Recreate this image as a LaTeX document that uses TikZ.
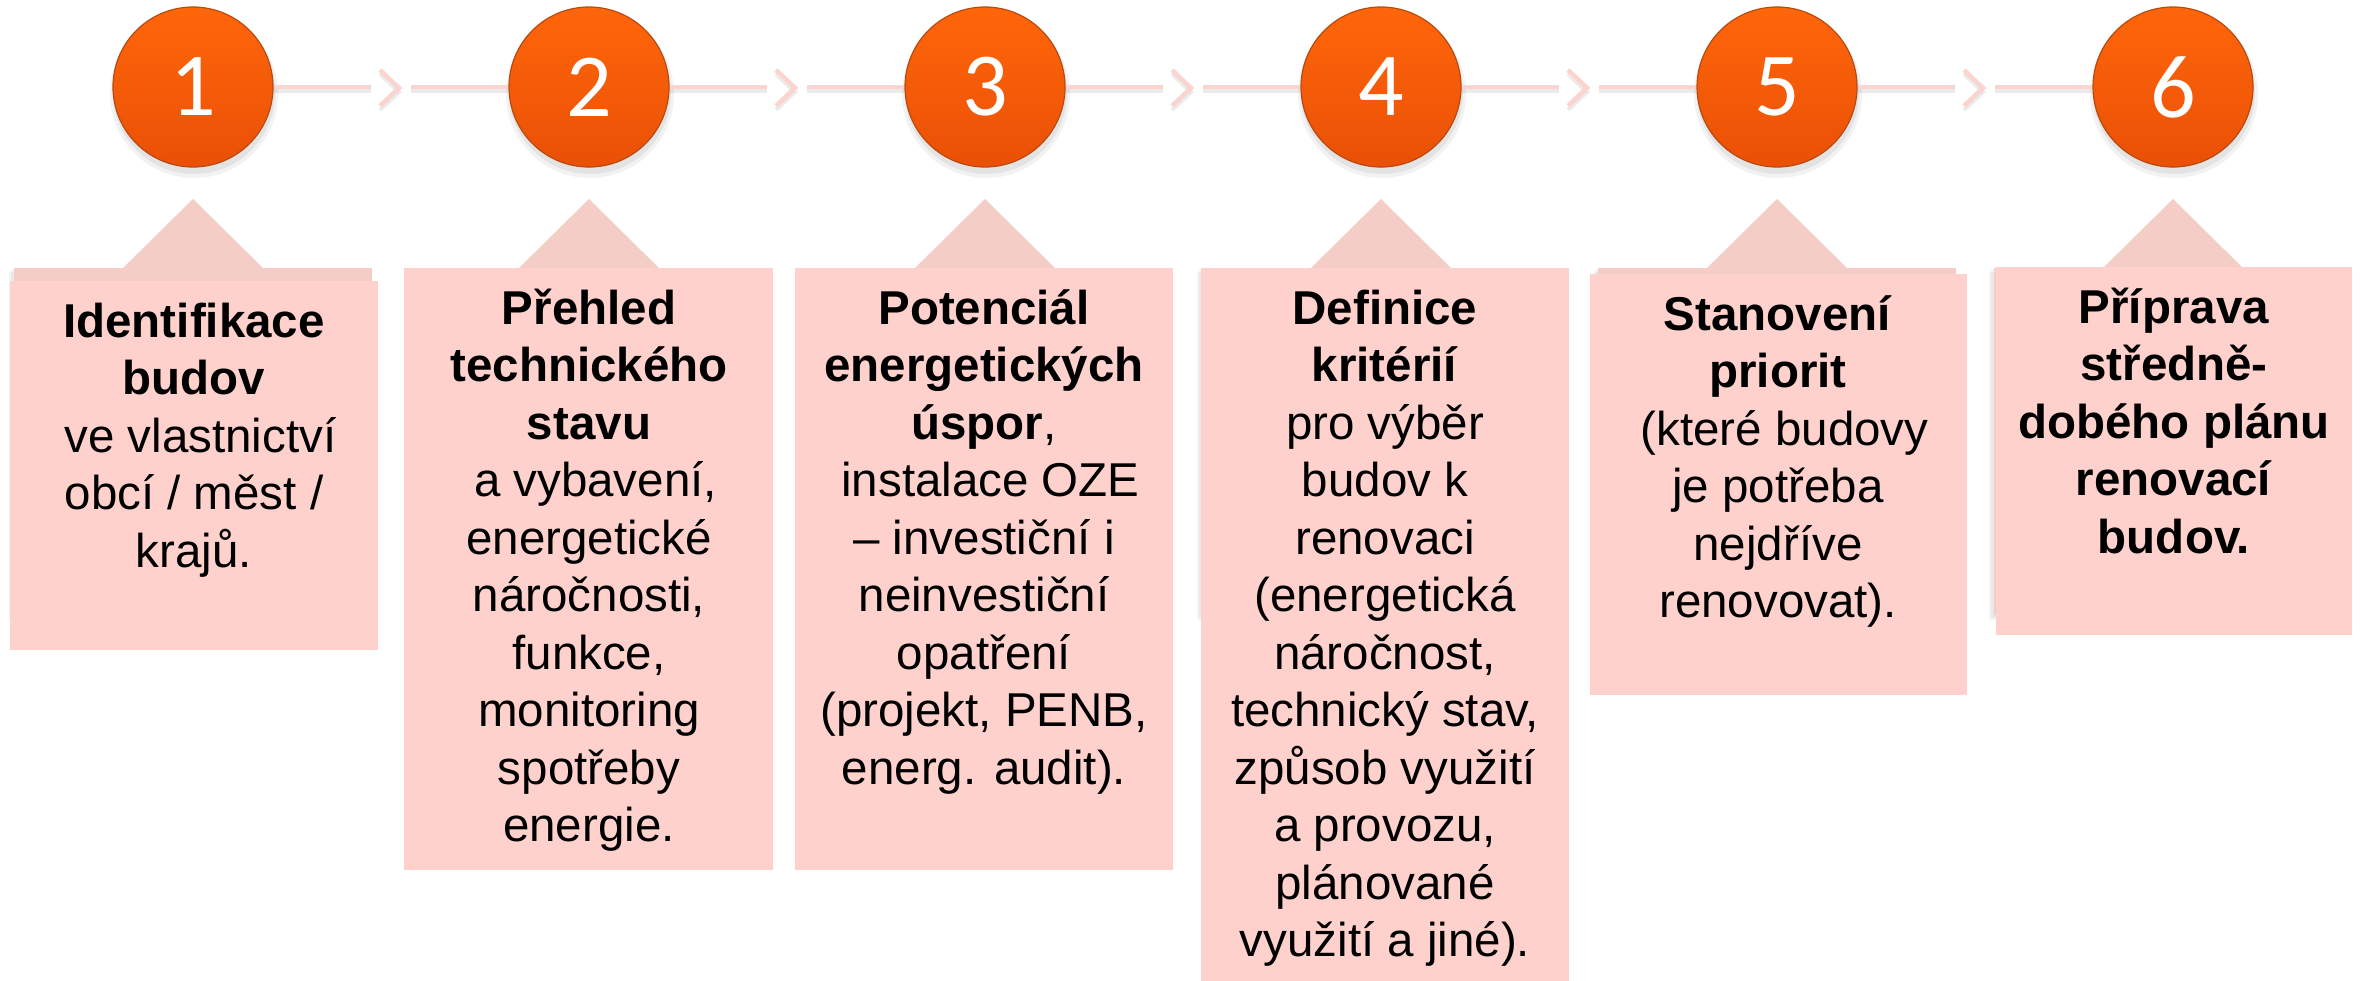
\documentclass[tikz,border=0pt]{standalone}
\usepackage{fontspec}
\setmainfont{Liberation Sans}
\newfontfamily\numfont{Carlito}
\definecolor{orTop}{HTML}{FF660A}
\definecolor{orBot}{HTML}{EA5006}
\definecolor{orRim}{HTML}{B84A10}
\definecolor{backPink}{HTML}{F4CDC7}
\definecolor{frontPink}{HTML}{FED1CC}
\definecolor{linePink}{HTML}{FBD3CF}
\begin{document}
\begin{tikzpicture}[x=1pt,y=-1pt,
  numcirc/.style={circle, minimum size=160pt, inner sep=0pt, top color=orTop, bottom color=orBot,
    draw=orRim, line width=1.2pt, text=white, font=\numfont\fontsize{90}{90}\selectfont},
  conn/.style={draw=linePink, line width=3.5pt},
  connshadow/.style={draw=black, opacity=0.08, line width=4pt},
  chev/.style={draw=linePink, line width=4.5pt, line join=miter},
  txt/.style={anchor=north, inner sep=0pt, align=center, text=black,
    font=\fontsize{47.5}{57.5}\selectfont}]
\useasboundingbox (0,0) rectangle (2361,980);
\fill[white] (0,0) rectangle (2361,980);

% ---- back callouts (triangle + rectangle) with soft shadow
\foreach \cx in {193,589,985,1381,1777,2173}{
  \fill[black,opacity=0.04] (\cx-184,272) rectangle (\cx+177,620);
  \fill[black,opacity=0.05] (\cx-182,270) rectangle (\cx+178,618);
  \fill[black,opacity=0.04] (\cx-71,272) -- (\cx,201) -- (\cx+71,272) -- cycle;
  \fill[backPink] (\cx-179,268) rectangle (\cx+179,615);
  \fill[backPink] (\cx-71,269) -- (\cx,199) -- (\cx+71,269) -- cycle;
}

% ---- front text rectangles
\fill[frontPink] (10,281) rectangle (378,650);
\fill[frontPink] (404,268) rectangle (773,870);
\fill[frontPink] (795,268) rectangle (1173,870);
\fill[frontPink] (1201,268) rectangle (1569,985);
\fill[frontPink] (1590,274) rectangle (1967,695);
\fill[frontPink] (1996,267) rectangle (2352,635);

% ---- circle shadows
\foreach \cx in {193,589,985,1381,1777,2173}{
  \fill[black,opacity=0.05] (\cx+1,94) circle (84pt);
  \fill[black,opacity=0.06] (\cx+1,93) circle (81pt);
}

% ---- numbered circles
\node[numcirc] (c1) at (193,87) {1};
\node[numcirc] (c2) at (589,87) {2};
\node[numcirc] (c3) at (985,87) {3};
\node[numcirc] (c4) at (1381,87) {4};
\node[numcirc] (c5) at (1777,87) {5};
\node[numcirc] (c6) at (2173,87) {6};

% ---- connectors with chevrons
\foreach \i/\j/\m in {1/2/391,2/3/787,3/4/1183,4/5/1579,5/6/1975}{
  \coordinate (a\i) at (\m-20,87);
  \coordinate (b\i) at (\m+20,87);
  \coordinate (u\i) at (\m-11,70);
  \coordinate (p\i) at (\m+8,88);
  \coordinate (d\i) at (\m-11,106);
  \draw[connshadow] ([yshift=-4pt]c\i.east) -- ([yshift=-4pt]a\i);
  \draw[connshadow] ([yshift=-4pt]b\i) -- ([yshift=-4pt]c\j.west);
  \draw[connshadow] ([yshift=-4pt]u\i) -- ([yshift=-4pt]p\i) -- ([yshift=-4pt]d\i);
  \draw[conn] (c\i.east) -- (a\i);
  \draw[conn] (b\i) -- (c\j.west);
  \draw[chev] (u\i) -- (p\i) -- (d\i);
}

% ---- texts
\node[txt] (t1) at (194,297) {\rule{0pt}{40pt}\textbf{Identifikace}\\ \textbf{budov}\\ \hspace*{13pt}ve vlastnictví\\ obcí / měst /\\ krajů.};
\node[txt] (t2) at (589,284) {\rule{0pt}{40pt}\textbf{Přehled}\\ \textbf{technického}\\ \textbf{stavu}\\ \hspace*{13pt}a vybavení,\\ energetické\\ náročnosti,\\ funkce,\\ monitoring\\ spotřeby\\ energie.};
\node[txt] (t3) at (984,284) {\rule{0pt}{40pt}\textbf{Potenciál}\\ \textbf{energetických}\\ \textbf{úspor},\\ \hspace*{13pt}instalace OZE\\ – investiční i\\ neinvestiční\\ opatření\\ (projekt, PENB,\\ energ. audit).};
\node[txt] (t4) at (1385,284) {\rule{0pt}{40pt}\textbf{Definice}\\ \textbf{kritérií}\\ pro výběr\\ budov k\\ renovaci\\ (energetická\\ náročnost,\\ technický stav,\\ způsob využití\\ a provozu,\\ plánované\\ využití a jiné).};
\node[txt] (t5) at (1778,290) {\rule{0pt}{40pt}\textbf{Stanovení}\\ \textbf{priorit}\\ \hspace*{13pt}(které budovy\\ je potřeba\\ nejdříve\\ renovovat).};
\node[txt] (t6) at (2174,283) {\rule{0pt}{40pt}\textbf{Příprava}\\ \textbf{středně-}\\ \textbf{dobého plánu}\\ \textbf{renovací}\\ \textbf{budov.}};
\end{tikzpicture}
\end{document}
